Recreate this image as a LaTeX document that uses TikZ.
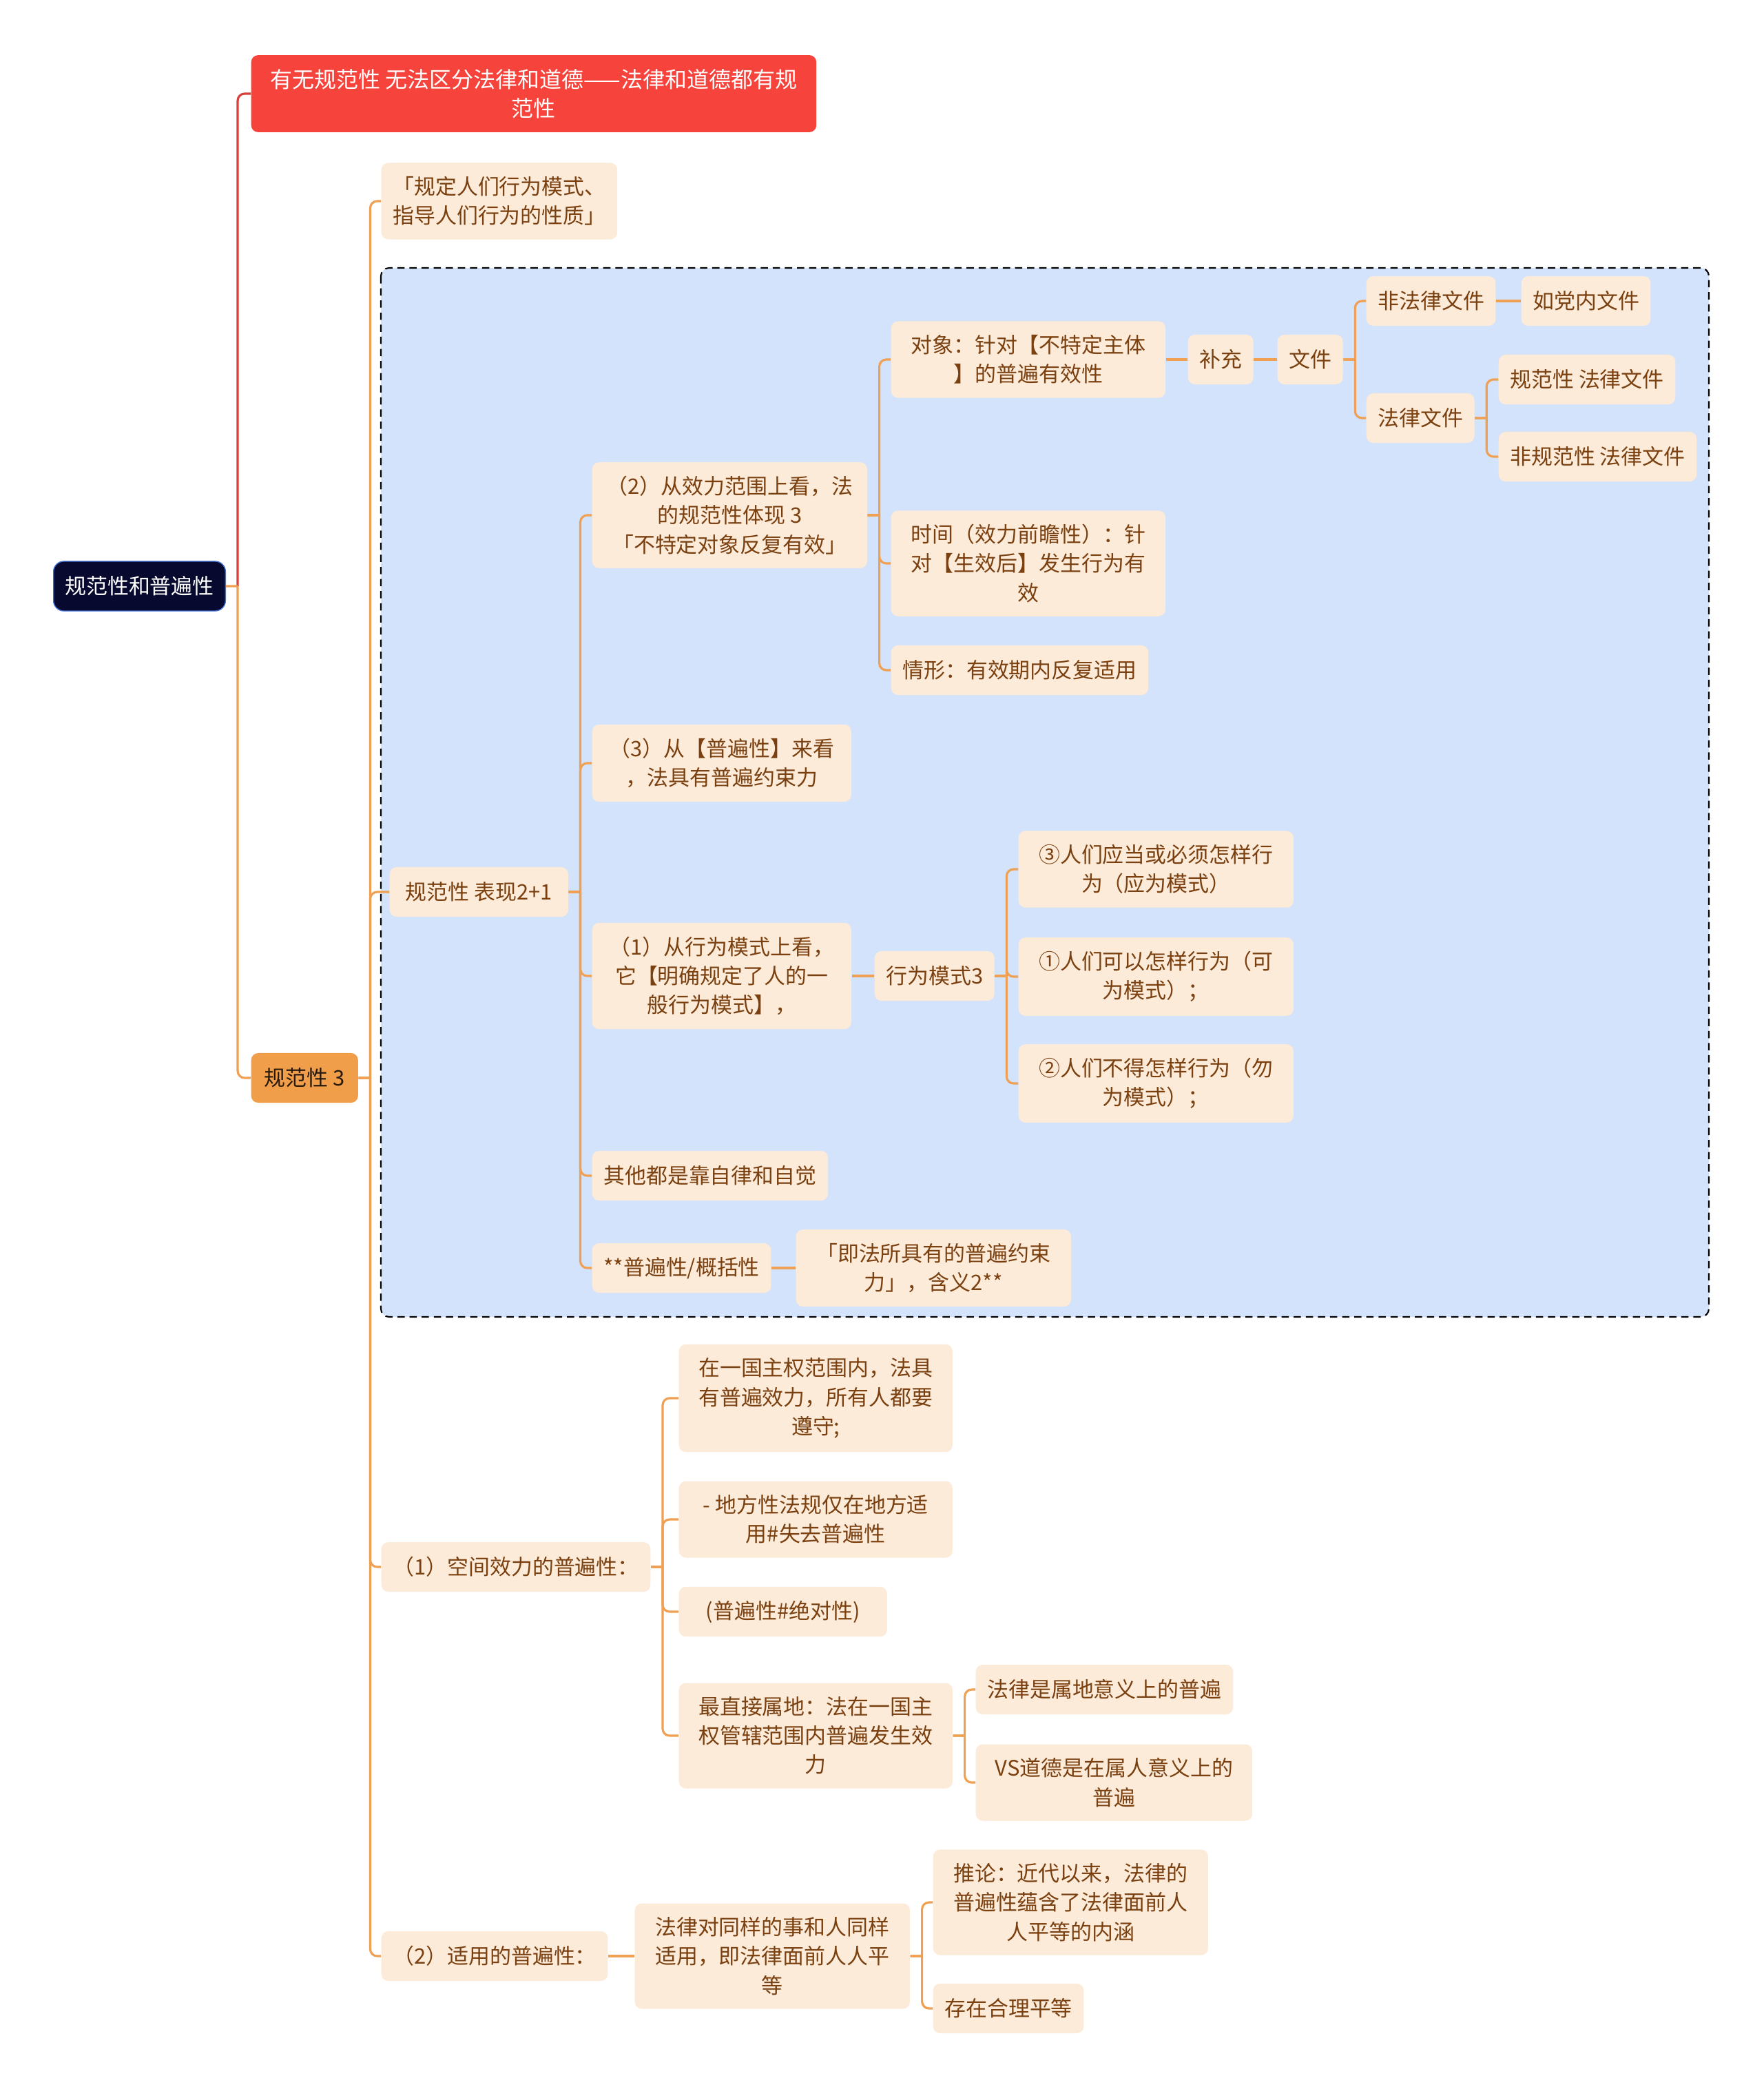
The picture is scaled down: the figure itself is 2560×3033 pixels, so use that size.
\documentclass[tikz,border=0pt]{standalone}
\usepackage{fontspec}
\setmainfont{Noto Sans CJK SC}
\usepackage{xcolor}

\definecolor{leaffill}{HTML}{FDEBDA}
\definecolor{leaftext}{HTML}{7A4010}
\definecolor{linkc}{HTML}{EFA052}
\definecolor{regionfill}{HTML}{D3E3FB}
\definecolor{rootfill}{HTML}{070A2E}
\definecolor{rootedge}{HTML}{3D6FD6}
\definecolor{negfill}{HTML}{F6443C}
\definecolor{negline}{HTML}{D8403A}
\definecolor{secfill}{HTML}{F19E4A}

\tikzset{
  leaf/.style={fill=leaffill,text=leaftext,rounded corners=1mm,anchor=west,align=center,
    inner xsep=1.65mm,inner ysep=2mm,minimum height=7.2mm,font=\fontsize{8.8pt}{12pt}\selectfont},
  rootbox/.style={leaf,fill=rootfill,draw=rootedge,line width=0.4pt,text=white,rounded corners=1.5mm},
  negbox/.style={leaf,fill=negfill,text=white,minimum width=8.2cm,font=\fontsize{9.1pt}{12pt}\selectfont},
  secbox/.style={leaf,fill=secfill,text=black!80!brown},
  link/.style={draw=linkc,line width=0.9pt,rounded corners=1mm}
}

\begin{document}
\begin{tikzpicture}[x=0.01cm,y=-0.01cm]
\fill[white] (0,0) rectangle (2560,3033);
\useasboundingbox (0,0) rectangle (2560,3033);
% region round the forms of normativity
\draw[dashed,dash pattern=on 3pt off 2pt,fill=regionfill,rounded corners=1.2mm,line width=0.6pt] (553,389) rectangle (2481,1912);

\node[rootbox] (root) at (77,851) {规范性和普遍性};
\node[negbox] (neg) at (364,136) {有无规范性 无法区分法律和道德——法律和道德都有规\\范性};
\node[secbox,minimum width=1.55cm] (norm) at (364,1565) {规范性 3};

\node[leaf] (quality) at (553,292) {「规定人们行为模式、\\指导人们行为的性质」};
\node[leaf,minimum width=2.59cm] (show) at (565,1295) {规范性 表现2+1};
\node[leaf] (space) at (553,2275) {（1）空间效力的普遍性：};
\node[leaf] (apply) at (553,2840) {（2）适用的普遍性：};

\node[leaf,minimum width=3.99cm] (scope) at (859,748) {（2）从效力范围上看，法\\的规范性体现 3\\「不特定对象反复有效」};
\node[leaf,minimum width=3.76cm] (univ) at (859,1108) {（3）从【普遍性】来看\\，法具有普遍约束力};
\node[leaf,minimum width=3.76cm] (mode) at (859,1417) {（1）从行为模式上看，\\它【明确规定了人的一\\般行为模式】，};
\node[leaf] (other) at (859,1707) {其他都是靠自律和自觉};
\node[leaf] (general) at (859,1841) {**普遍性/概括性};

\node[leaf,minimum width=3.98cm] (object) at (1293,522) {对象：针对【不特定主体\\】的普遍有效性};
\node[leaf,minimum width=3.98cm] (time) at (1293,818) {时间（效力前瞻性）：针\\对【生效后】发生行为有\\效};
\node[leaf] (case) at (1293,973) {情形：有效期内反复适用};
\node[leaf] (supp) at (1724,522) {补充};
\node[leaf] (file) at (1854,522) {文件};
\node[leaf] (nonlaw) at (1983,437) {非法律文件};
\node[leaf] (party) at (2208,437) {如党内文件};
\node[leaf] (lawfile) at (1983,607) {法律文件};
\node[leaf] (normfile) at (2175,551) {规范性 法律文件};
\node[leaf] (nonnorm) at (2175,663) {非规范性 法律文件};

\node[leaf] (mode3) at (1269,1417) {行为模式3};
\node[leaf,minimum width=3.99cm] (should) at (1478,1262) {③人们应当或必须怎样行\\为（应为模式）};
\node[leaf,minimum width=3.99cm] (may) at (1478,1418) {①人们可以怎样行为（可\\为模式）；};
\node[leaf,minimum width=3.99cm] (maynot) at (1478,1573) {②人们不得怎样行为（勿\\为模式）；};
\node[leaf,minimum width=3.99cm] (bind) at (1155,1841) {「即法所具有的普遍约束\\力」，含义2**};

\node[leaf,minimum width=3.97cm] (sov) at (985,2030) {在一国主权范围内，法具\\有普遍效力，所有人都要\\遵守;};
\node[leaf,minimum width=3.97cm] (local) at (985,2206) {- 地方性法规仅在地方适\\用\#失去普遍性};
\node[leaf,minimum width=3.02cm] (absol) at (985,2340) {(普遍性\#绝对性)};
\node[leaf,minimum width=3.97cm] (terr) at (985,2520) {最直接属地：法在一国主\\权管辖范围内普遍发生效\\力};
\node[leaf] (lawterr) at (1416,2453) {法律是属地意义上的普遍};
\node[leaf,minimum width=4.01cm] (moral) at (1416,2588) {VS道德是在属人意义上的\\普遍};

\node[leaf,minimum width=3.99cm] (equal) at (921,2840) {法律对同样的事和人同样\\适用，即法律面前人人平\\等};
\node[leaf,minimum width=3.99cm] (infer) at (1354,2762) {推论：近代以来，法律的\\普遍性蕴含了法律面前人\\人平等的内涵};
\node[leaf] (reason) at (1354,2916) {存在合理平等};

% connectors
\draw[link,draw=negline] ([xshift=1.7mm]root.east) |- (neg.west);
\foreach \a/\b in {root/norm,norm/quality,norm/show,norm/space,norm/apply,
    show/scope,show/univ,show/mode,show/other,show/general,
    scope/object,scope/time,scope/case,
    file/nonlaw,file/lawfile,lawfile/normfile,lawfile/nonnorm,
    mode3/should,mode3/may,mode3/maynot,
    space/sov,space/local,space/absol,space/terr,terr/lawterr,terr/moral,
    equal/infer,equal/reason}
  \draw[link] (\a.east) -- ([xshift=1.7mm]\a.east) ([xshift=1.7mm]\a.east) |- (\b.west);
% single children in line
\foreach \a/\b in {object/supp,supp/file,nonlaw/party,mode/mode3,general/bind,apply/equal}
  \draw[link] (\a.east) -- (\b.west);
\end{tikzpicture}
\end{document}
